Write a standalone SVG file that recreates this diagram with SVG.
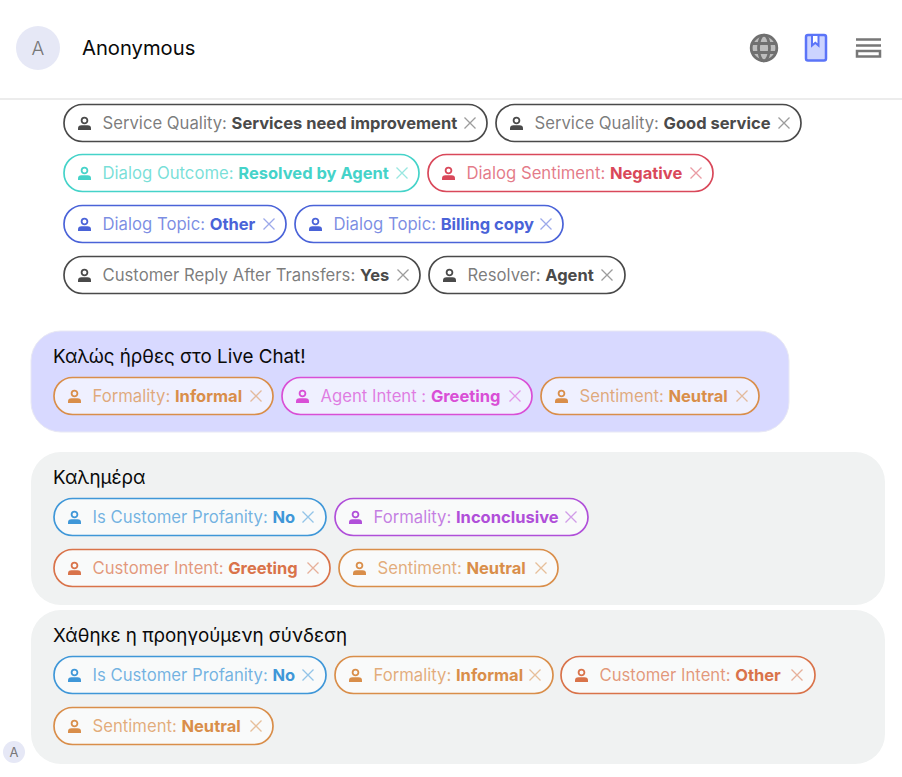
<svg xmlns="http://www.w3.org/2000/svg" width="902" height="777" viewBox="0 0 902 777">
<style>
text{font-family:Inter,"Noto Sans","Liberation Sans",sans-serif}
.chip{fill:#fff;stroke-width:1.7;stroke:currentColor}
.in{fill-opacity:.6}
.t{font-size:16.5px}
.l{fill-opacity:.72;font-size:16.7px}
.v{font-weight:700}
.msg{font-size:18.8px;fill:#0a0a0a}
.g-gray{color:#4a4a4a;fill:#4a4a4a}.g-teal{color:#45d3c9;fill:#45d3c9}.g-red{color:#d9485a;fill:#d9485a}.g-blue{color:#4a63d8;fill:#4a63d8}.g-or{color:#d98e4a;fill:#d98e4a}.g-mag{color:#d94fd6;fill:#d94fd6}.g-sky{color:#3f97d8;fill:#3f97d8}.g-pur{color:#b04fd9;fill:#b04fd9}.g-ver{color:#d9734a;fill:#d9734a}
</style>
<defs>
<g id="p"><circle cx="0" cy="-3" r="2.900" fill="none" stroke="currentColor" stroke-width="1.800"/><path d="M-6.500 6.500v-1.800q0-3 3.500-3h6q3.500 0 3.500 3v1.800z" fill="currentColor"/></g>
<g id="xx"><path d="M-5.500-5.500L5.500 5.500M5.500-5.500L-5.500 5.500" stroke="currentColor" fill="none" stroke-width="1.300" opacity=".55"/></g>
</defs>
<rect width="902" height="777" fill="#fff"/>
<g id="header">
<rect y="98" width="902" height="2" fill="#ececec"/>
<circle cx="38" cy="48" r="22" fill="#e6e8f6"/>
<text x="38" y="54.500" font-size="19" font-weight="300" fill="#777" text-anchor="middle">A</text>
<text x="82" y="55" font-size="20.200" fill="#0a0a0a">Anonymous</text>
</g>
<g id="icon-globe" fill="none" stroke="#707070" stroke-width="2.800">
<circle cx="764" cy="48" r="12.800" fill="#bdbdbd"/><ellipse cx="764" cy="48" rx="5.500" ry="12.800"/><path d="M752 43.500h24M752 52.500h24"/>
</g>
<g id="icon-book"><rect x="806" y="35" width="20" height="25.500" rx="2" fill="#ccd4ff" stroke="#5b74f8" stroke-width="2.500"/><path d="M812 35h6.500v10.500l-3.200-2.800-3.300 2.800z" fill="#fff" stroke="#5b74f8" stroke-width="2"/></g>
<g id="icon-menu" fill="none" stroke="#777" stroke-width="2.500"><path d="M856 39.500h25M856 45.500h25"/><rect x="857" y="51" width="23" height="5.500"/></g>

<g id="bubble-1"><rect x="31" y="331" width="758" height="101" rx="30" fill="#d8d9ff" stroke="#e8e8f4" stroke-width="1"/><text class="msg" x="53" y="363">Καλώς ήρθες στο Live Chat!</text></g>
<g id="bubble-2"><rect x="31" y="452" width="854" height="153" rx="30" fill="#f0f2f2"/><text class="msg" x="53" y="484">Καλημέρα</text></g>
<g id="bubble-3"><rect x="31" y="610" width="854" height="154" rx="30" fill="#f0f2f2"/><text class="msg" x="53" y="642">Χάθηκε η προηγούμενη σύνδεση</text></g>
<g id="badge"><circle cx="14" cy="752" r="11" fill="#e6e8f6"/><text x="14" y="757" font-size="13" fill="#777" text-anchor="middle">A</text></g>

<g id="chip-1" class="g-gray" transform="translate(63,104)"><rect class="chip" x="1" y=".5" width="423" height="37" rx="18.500"/><use href="#p" x="21.500" y="19.500"/><text class="t" x="39.500" y="25"><tspan class="l">Service Quality: </tspan><tspan class="v">Services need improvement</tspan></text><use href="#xx" x="407" y="19"/></g>
<g id="chip-2" class="g-gray" transform="translate(495,104)"><rect class="chip" x="1" y=".5" width="305" height="37" rx="18.500"/><use href="#p" x="21.500" y="19.500"/><text class="t" x="39.500" y="25"><tspan class="l">Service Quality: </tspan><tspan class="v">Good service</tspan></text><use href="#xx" x="289" y="19"/></g>
<g id="chip-3" class="g-teal" transform="translate(63,154)"><rect class="chip" x="1" y=".5" width="355" height="37" rx="18.500"/><use href="#p" x="21.500" y="19.500"/><text class="t" x="39.500" y="25"><tspan class="l">Dialog Outcome: </tspan><tspan class="v">Resolved by Agent</tspan></text><use href="#xx" x="339" y="19"/></g>
<g id="chip-4" class="g-red" transform="translate(427,154)"><rect class="chip" x="1" y=".5" width="285" height="37" rx="18.500"/><use href="#p" x="21.500" y="19.500"/><text class="t" x="39.500" y="25"><tspan class="l">Dialog Sentiment: </tspan><tspan class="v">Negative</tspan></text><use href="#xx" x="269" y="19"/></g>
<g id="chip-5" class="g-blue" transform="translate(63,205)"><rect class="chip" x="1" y=".5" width="222" height="37" rx="18.500"/><use href="#p" x="21.500" y="19.500"/><text class="t" x="39.500" y="25"><tspan class="l">Dialog Topic: </tspan><tspan class="v">Other</tspan></text><use href="#xx" x="206" y="19"/></g>
<g id="chip-6" class="g-blue" transform="translate(294,205)"><rect class="chip" x="1" y=".5" width="268" height="37" rx="18.500"/><use href="#p" x="21.500" y="19.500"/><text class="t" x="39.500" y="25"><tspan class="l">Dialog Topic: </tspan><tspan class="v">Billing copy</tspan></text><use href="#xx" x="252" y="19"/></g>
<g id="chip-7" class="g-gray" transform="translate(63,256)"><rect class="chip" x="1" y=".5" width="356" height="37" rx="18.500"/><use href="#p" x="21.500" y="19.500"/><text class="t" x="39.500" y="25"><tspan class="l">Customer Reply After Transfers: </tspan><tspan class="v">Yes</tspan></text><use href="#xx" x="340" y="19"/></g>
<g id="chip-8" class="g-gray" transform="translate(428,256)"><rect class="chip" x="1" y=".5" width="196" height="37" rx="18.500"/><use href="#p" x="21.500" y="19.500"/><text class="t" x="39.500" y="25"><tspan class="l">Resolver: </tspan><tspan class="v">Agent</tspan></text><use href="#xx" x="179" y="19"/></g>

<g id="chip-9" class="g-or" transform="translate(53,377)"><rect class="chip in" x="1" y=".5" width="219" height="37" rx="18.500"/><use href="#p" x="21.500" y="19.500"/><text class="t" x="39.500" y="25"><tspan class="l">Formality: </tspan><tspan class="v">Informal</tspan></text><use href="#xx" x="203" y="19"/></g>
<g id="chip-10" class="g-mag" transform="translate(281,377)"><rect class="chip in" x="1" y=".5" width="250" height="37" rx="18.500"/><use href="#p" x="21.500" y="19.500"/><text class="t" x="39.500" y="25"><tspan class="l">Agent Intent : </tspan><tspan class="v">Greeting</tspan></text><use href="#xx" x="234" y="19"/></g>
<g id="chip-11" class="g-or" transform="translate(540,377)"><rect class="chip in" x="1" y=".5" width="218" height="37" rx="18.500"/><use href="#p" x="21.500" y="19.500"/><text class="t" x="39.500" y="25"><tspan class="l">Sentiment: </tspan><tspan class="v">Neutral</tspan></text><use href="#xx" x="202" y="19"/></g>

<g id="chip-12" class="g-sky" transform="translate(53,498)"><rect class="chip in" x="1" y=".5" width="272" height="37" rx="18.500"/><use href="#p" x="21.500" y="19.500"/><text class="t" x="39.500" y="25"><tspan class="l">Is Customer Profanity: </tspan><tspan class="v">No</tspan></text><use href="#xx" x="255" y="19"/></g>
<g id="chip-13" class="g-pur" transform="translate(334,498)"><rect class="chip in" x="1" y=".5" width="253" height="37" rx="18.500"/><use href="#p" x="21.500" y="19.500"/><text class="t" x="39.500" y="25"><tspan class="l">Formality: </tspan><tspan class="v">Inconclusive</tspan></text><use href="#xx" x="237" y="19"/></g>
<g id="chip-14" class="g-ver" transform="translate(53,549)"><rect class="chip in" x="1" y=".5" width="276" height="37" rx="18.500"/><use href="#p" x="21.500" y="19.500"/><text class="t" x="39.500" y="25"><tspan class="l">Customer Intent: </tspan><tspan class="v">Greeting</tspan></text><use href="#xx" x="260" y="19"/></g>
<g id="chip-15" class="g-or" transform="translate(338,549)"><rect class="chip in" x="1" y=".5" width="219" height="37" rx="18.500"/><use href="#p" x="21.500" y="19.500"/><text class="t" x="39.500" y="25"><tspan class="l">Sentiment: </tspan><tspan class="v">Neutral</tspan></text><use href="#xx" x="203" y="19"/></g>

<g id="chip-16" class="g-sky" transform="translate(53,656)"><rect class="chip in" x="1" y=".5" width="272" height="37" rx="18.500"/><use href="#p" x="21.500" y="19.500"/><text class="t" x="39.500" y="25"><tspan class="l">Is Customer Profanity: </tspan><tspan class="v">No</tspan></text><use href="#xx" x="255" y="19"/></g>
<g id="chip-17" class="g-or" transform="translate(334,656)"><rect class="chip in" x="1" y=".5" width="218" height="37" rx="18.500"/><use href="#p" x="21.500" y="19.500"/><text class="t" x="39.500" y="25"><tspan class="l">Formality: </tspan><tspan class="v">Informal</tspan></text><use href="#xx" x="201" y="19"/></g>
<g id="chip-18" class="g-ver" transform="translate(560,656)"><rect class="chip in" x="1" y=".5" width="254" height="37" rx="18.500"/><use href="#p" x="21.500" y="19.500"/><text class="t" x="39.500" y="25"><tspan class="l">Customer Intent: </tspan><tspan class="v">Other</tspan></text><use href="#xx" x="237" y="19"/></g>
<g id="chip-19" class="g-or" transform="translate(53,707)"><rect class="chip in" x="1" y=".5" width="219" height="37" rx="18.500"/><use href="#p" x="21.500" y="19.500"/><text class="t" x="39.500" y="25"><tspan class="l">Sentiment: </tspan><tspan class="v">Neutral</tspan></text><use href="#xx" x="203" y="19"/></g>
</svg>
